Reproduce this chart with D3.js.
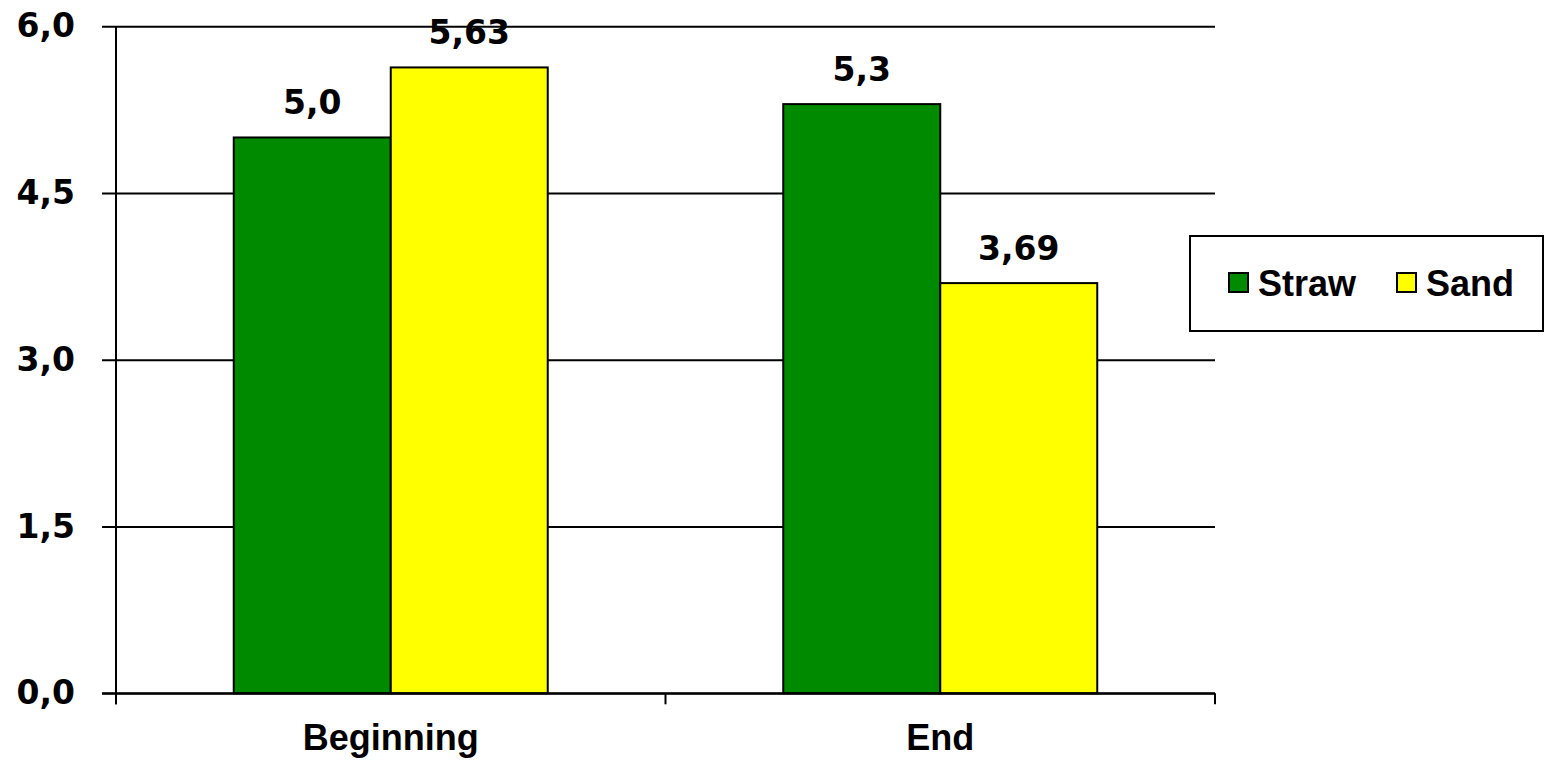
<!DOCTYPE html>
<html>
<head>
<meta charset="utf-8">
<script src="https://cdn.jsdelivr.net/npm/d3@7"></script>
<style>
  html, body { margin: 0; padding: 0; background: #fff; }
  svg { display: block; }
</style>
</head>
<body>
<svg id="chart" width="1545" height="760"></svg>
<script>
const categories = ["Beginning", "End"];
const seriesNames = ["Straw", "Sand"];
const strawValues = [5.0, 5.3];
const sandValues = [5.63, 3.69];
const strawLabels = ["5,0", "5,3"];
const sandLabels = ["5,63", "3,69"];
const yTickValues = [0, 1.5, 3.0, 4.5, 6.0];
const yTickLabels = ["0,0", "1,5", "3,0", "4,5", "6,0"];
const seriesColors = ["#008A00", "#FFFF00"];

(function () {
const svg = d3.select("#chart");
const plotLeft = 116, plotRight = 1215, plotTop = 26.3, plotBottom = 693.3;
const numFont = "'Comic Sans MS', 'DejaVu Sans', sans-serif";
const txtFont = "'Liberation Sans', Arial, sans-serif";

const y = d3.scaleLinear().domain([0, 6]).range([plotBottom, plotTop]);
const x0 = d3.scaleBand().domain(categories).range([plotLeft, plotRight]).paddingInner(0).paddingOuter(0);
const x1 = d3.scaleBand().domain(seriesNames).range([0, x0.bandwidth()]).paddingInner(0).paddingOuter(0.75);

// gridlines + y ticks + labels
const yAxis = d3.axisLeft(y).tickValues(yTickValues)
  .tickSize(plotRight - 102).tickPadding(27)
  .tickFormat((d, i) => yTickLabels[i]);
const gy = svg.append("g").attr("transform", `translate(${plotRight},0)`).call(yAxis);
gy.select(".domain").remove();
gy.selectAll(".tick line").attr("stroke", "#000").attr("stroke-width", 2);
gy.selectAll(".tick text")
  .attr("font-family", numFont).attr("font-weight", "bold").attr("font-size", 33)
  .attr("fill", "#000");

// y axis line
svg.append("line").attr("x1", plotLeft).attr("x2", plotLeft).attr("y1", plotTop).attr("y2", plotBottom + 11)
  .attr("stroke", "#000").attr("stroke-width", 2);

// x axis ticks at category boundaries
const bounds = categories.map(c => x0(c)).concat([plotRight]);
svg.selectAll(".xtick").data(bounds).enter().append("line")
  .attr("x1", d => d).attr("x2", d => d).attr("y1", plotBottom).attr("y2", plotBottom + 11)
  .attr("stroke", "#000").attr("stroke-width", 2);

// bars
const data = categories.map((c, i) => ({
  cat: c,
  vals: [
    { s: "Straw", v: strawValues[i], lab: strawLabels[i], col: seriesColors[0] },
    { s: "Sand", v: sandValues[i], lab: sandLabels[i], col: seriesColors[1] }
  ]
}));
const groups = svg.selectAll(".grp").data(data).enter().append("g")
  .attr("transform", d => `translate(${x0(d.cat)},0)`);
groups.selectAll("rect").data(d => d.vals).enter().append("rect")
  .attr("x", d => x1(d.s)).attr("width", x1.bandwidth())
  .attr("y", d => y(d.v)).attr("height", d => y(0) - y(d.v))
  .attr("fill", d => d.col).attr("stroke", "#000").attr("stroke-width", 2);
groups.selectAll("text").data(d => d.vals).enter().append("text")
  .attr("x", d => x1(d.s) + x1.bandwidth() / 2)
  .attr("y", d => y(d.v) - 23)
  .attr("text-anchor", "middle")
  .attr("font-family", numFont).attr("font-weight", "bold").attr("font-size", 33)
  .attr("fill", "#000").text(d => d.lab);

// x axis line on top of bars
svg.append("line").attr("x1", 102).attr("x2", plotRight).attr("y1", plotBottom).attr("y2", plotBottom)
  .attr("stroke", "#000").attr("stroke-width", 2);

// category labels
svg.selectAll(".catlab").data(categories).enter().append("text")
  .attr("x", d => x0(d) + x0.bandwidth() / 2).attr("y", 750)
  .attr("text-anchor", "middle")
  .attr("font-family", txtFont).attr("font-weight", "bold").attr("font-size", 36)
  .attr("fill", "#000").text(d => d);

// legend
const lg = svg.append("g");
lg.append("rect").attr("x", 1190).attr("y", 236).attr("width", 353).attr("height", 95)
  .attr("fill", "#fff").attr("stroke", "#000").attr("stroke-width", 2);
const legendX = [1229, 1397];
seriesNames.forEach((s, i) => {
  lg.append("rect").attr("x", legendX[i]).attr("y", 273).attr("width", 19).attr("height", 19)
    .attr("fill", seriesColors[i]).attr("stroke", "#000").attr("stroke-width", 2);
  lg.append("text").attr("x", legendX[i] + 29).attr("y", 296)
    .attr("font-family", txtFont).attr("font-weight", "bold").attr("font-size", 36)
    .attr("fill", "#000").text(s);
});
})();
</script>
</body>
</html>
